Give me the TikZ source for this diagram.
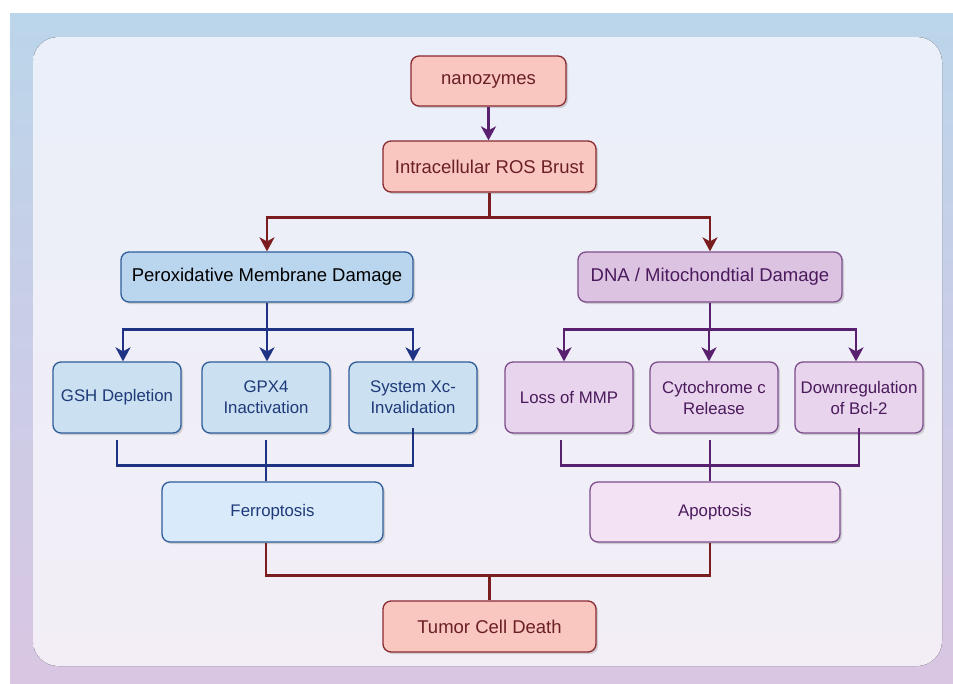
\documentclass[tikz,border=0pt]{standalone}
\usepackage{fontspec}
\setmainfont{Liberation Sans}
\usetikzlibrary{positioning,calc}
\usetikzlibrary{arrows.meta,shadows}

\definecolor{bgtop}{HTML}{BBD5EA}
\definecolor{bgbot}{HTML}{D9C6E3}
\definecolor{paneltop}{HTML}{EAEFF9}
\definecolor{panelbot}{HTML}{F3EEF6}
\definecolor{rosefill}{HTML}{F9C6C0}
\definecolor{rosedraw}{HTML}{8B2A30}
\definecolor{rosetext}{HTML}{6B1F26}
\definecolor{redline}{HTML}{7B1C1E}
\definecolor{navyline}{HTML}{1F3384}
\definecolor{plumline}{HTML}{5A2070}
\definecolor{bluefill}{HTML}{BAD6EE}
\definecolor{bluesmall}{HTML}{CBE0F1}
\definecolor{bluelight}{HTML}{D9EAFA}
\definecolor{bluedraw}{HTML}{2D5D99}
\definecolor{bluetext}{HTML}{1E3A78}
\definecolor{plumfill}{HTML}{DCC3E2}
\definecolor{plumsmall}{HTML}{E8D4EC}
\definecolor{plumlight}{HTML}{F3E1F4}
\definecolor{plumdraw}{HTML}{7D4E8C}
\definecolor{plumtext}{HTML}{4A1A5C}

\begin{document}
\begin{tikzpicture}[x=1pt, y=-1pt, >={Stealth[length=14pt,width=15pt,inset=4pt]},
  box/.style={draw, line width=1.3pt, rounded corners=8pt, align=center, inner sep=0pt,
    drop shadow={opacity=0.3, shadow xshift=2pt, shadow yshift=-2pt}},
  rosebox/.style={box, fill=rosefill, draw=rosedraw, text=rosetext,
    minimum width=213pt, minimum height=51pt, font=\fontsize{18.5}{22}\selectfont},
  bluebig/.style={box, fill=bluefill, draw=bluedraw, text=black,
    minimum width=292pt, minimum height=50pt, font=\fontsize{18.5}{22}\selectfont},
  plumbig/.style={box, fill=plumfill, draw=plumdraw, text=plumtext,
    minimum width=264pt, minimum height=50pt, font=\fontsize{18.5}{22}\selectfont},
  bluecell/.style={box, fill=bluesmall, draw=bluedraw, text=bluetext,
    minimum width=128pt, minimum height=71pt, font=\fontsize{16.8}{21}\selectfont},
  plumcell/.style={box, fill=plumsmall, draw=plumdraw, text=plumtext,
    minimum width=128pt, minimum height=71pt, font=\fontsize{16.8}{21}\selectfont},
  link/.style={line width=2.4pt},
]
\useasboundingbox (0,0) rectangle (953,683);
% background
\fill[top color=bgtop, bottom color=bgbot] (10,13) rectangle (953,683);
\fill[top color=paneltop, bottom color=panelbot, rounded corners=25pt] (33,37) rectangle (942,666);

% nodes
\node[rosebox, minimum width=155pt, minimum height=50pt] (nano) at (488.5,81) {nanozymes};
\node[rosebox] (ros) at (489.5,166.5) {Intracellular ROS Brust};
\node[bluebig] (perox) at (267,277) {Peroxidative Membrane Damage};
\node[plumbig] (dna) at (710,277) {DNA / Mitochondtial Damage};
\node[bluecell] (gsh) at (117,397.5) {GSH Depletion};
\node[bluecell] (gpx) at (266,397.5) {GPX4\\Inactivation};
\node[bluecell] (sysxc) at (413,397.5) {System Xc-\\Invalidation};
\node[plumcell] (mmp) at (569,397.5) {Loss of MMP};
\node[plumcell] (cyto) at (714,397.5) {Cytochrome c\\Release};
\node[plumcell] (bcl) at (859,397.5) {Downregulation\\of Bcl-2};
\node[bluecell, fill=bluelight, minimum width=221pt, minimum height=60pt] (ferro) at (272.5,512) {Ferroptosis};
\node[plumcell, fill=plumlight, minimum width=250pt, minimum height=60pt] (apo) at (715,512) {Apoptosis};
\node[rosebox] (tumor) at (489.5,626.5) {Tumor Cell Death};

% top connectors
\draw[link, plumline, ->] (nano.south) -- (nano.south |- ros.north);
\draw[link, redline, ->] (ros.south) -- ++(0,25) -| (perox.north);
\draw[link, redline, ->] (ros.south) -- ++(0,25) -| (dna.north);

% branches
\draw[link, navyline, ->] (perox.south) -- ++(0,27) -| ([xshift=6pt]gsh.north);
\draw[link, navyline, ->] (perox.south) -- (perox.south |- gpx.north);
\draw[link, navyline, ->] (perox.south) -- ++(0,27) -| (sysxc.north);
\draw[link, plumline, ->] (dna.south) -- ++(0,27) -| ([xshift=-5pt]mmp.north);
\draw[link, plumline, ->] (dna.south) -- ++(0,27) -| ([xshift=-5pt]cyto.north);
\draw[link, plumline, ->] (dna.south) -- ++(0,27) -| ([xshift=-3pt]bcl.north);

% merge lines
\draw[link, navyline] ([yshift=-6pt]gsh.south) -- ++(0,26) -| ([yshift=6pt]sysxc.south);
\draw[link, navyline] ([yshift=-6pt]gpx.south) -- ([xshift=-6.5pt]ferro.north);
\draw[link, plumline] ([xshift=-8pt, yshift=-6pt]mmp.south) -- ++(0,26) -| ([yshift=6pt]bcl.south);
\draw[link, plumline] ([xshift=-4pt, yshift=-6pt]cyto.south) -- ([xshift=-5pt]apo.north);

% to tumor cell death
\draw[link, redline] ([xshift=-6.5pt]ferro.south) -- ++(0,33) -| ([xshift=-5pt]apo.south);
\draw[link, redline] (tumor.north) -- ++(0,-26);
\end{tikzpicture}
\end{document}
